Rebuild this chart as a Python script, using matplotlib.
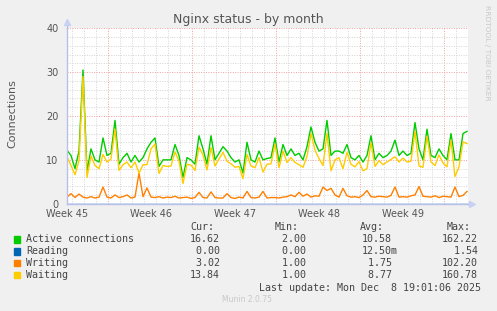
import matplotlib.pyplot as plt
from matplotlib.patches import Rectangle
import numpy as np

# munin "nginx status - by month", one value every 8 hours
active = [12.2, 11.0, 8.0, 12.0, 30.5, 7.3, 12.5, 10.0, 9.5, 15.0,
          11.0, 11.5, 19.0, 9.0, 10.5, 11.5, 9.5, 11.0, 9.5, 10.5,
          12.5, 14.0, 15.0, 8.5, 10.0, 10.0, 10.0, 13.5, 11.0, 6.0,
          10.5, 10.0, 9.0, 15.5, 12.5, 9.0, 15.5, 10.0, 11.5, 13.0,
          12.0, 10.5, 9.5, 10.0, 7.0, 14.0, 10.0, 9.5, 12.0, 10.0,
          10.3, 10.5, 15.0, 9.5, 13.5, 11.0, 12.5, 11.0, 11.5, 10.0,
          13.0, 17.5, 14.0, 12.0, 12.5, 19.0, 11.0, 12.0, 12.0, 11.5,
          13.5, 10.5, 10.0, 11.0, 9.5, 11.0, 15.5, 10.0, 11.5, 10.5,
          11.0, 12.0, 14.5, 11.0, 12.0, 11.0, 11.5, 18.5, 12.5, 10.0,
          17.0, 11.0, 10.5, 12.5, 11.0, 10.0, 16.0, 10.0, 10.0, 16.0,
          16.5]
reading = [0.0] * len(active)
writing = [1.5, 2.3, 1.4, 2.2, 1.5, 1.3, 1.6, 1.3, 1.5, 3.8,
           1.5, 1.3, 2.0, 1.4, 1.6, 2.0, 1.3, 1.5, 7.0, 1.6,
           3.6, 1.5, 1.4, 1.6, 1.3, 1.5, 1.4, 1.7, 1.3, 1.4,
           1.5, 1.2, 1.4, 2.6, 1.4, 1.3, 2.7, 1.4, 1.3, 1.3,
           2.3, 1.4, 1.2, 1.5, 1.3, 2.8, 1.4, 1.3, 1.5, 2.8,
           1.3, 1.4, 1.4, 1.3, 1.5, 1.6, 2.0, 1.6, 2.6, 1.7,
           2.2, 1.5, 1.8, 1.7, 3.8, 3.0, 3.5, 2.0, 1.5, 3.5,
           1.8, 1.5, 1.6, 1.4, 2.0, 3.0, 1.6, 1.5, 1.7, 1.6,
           1.5, 1.9, 3.8, 1.5, 1.6, 1.5, 1.8, 2.0, 3.9, 1.7,
           1.6, 1.5, 1.8, 1.4, 1.7, 1.6, 1.5, 3.8, 1.6, 1.9,
           2.8]
waiting = [10.7, 8.7, 6.6, 9.8, 29.0, 6.0, 10.9, 8.7, 8.0, 11.2,
           9.5, 10.2, 17.0, 7.6, 8.9, 9.5, 8.2, 9.5, 7.0, 8.9,
           8.9, 12.5, 13.6, 6.9, 8.7, 8.5, 8.6, 11.8, 9.7, 4.6,
           9.0, 8.8, 7.6, 12.9, 11.1, 7.7, 12.8, 8.6, 10.2, 11.7,
           9.7, 9.1, 8.3, 8.5, 5.7, 11.2, 8.6, 8.2, 10.5, 7.2,
           9.0, 9.1, 13.6, 8.2, 12.0, 9.4, 10.5, 9.4, 8.9, 8.3,
           10.8, 16.0, 12.2, 10.3, 8.7, 16.0, 7.5, 10.0, 10.5, 8.0,
           11.7, 9.0, 8.4, 9.6, 7.5, 8.0, 13.9, 8.5, 9.8, 8.9,
           9.5, 10.1, 10.7, 9.5, 10.4, 9.5, 9.7, 16.5, 8.6, 8.3,
           15.4, 9.5, 8.7, 11.1, 9.3, 8.4, 14.5, 6.2, 8.4, 14.1,
           13.7]

week_labels = ['Week 45', 'Week 46', 'Week 47', 'Week 48', 'Week 49']
series_names = ['Active connections', 'Reading', 'Writing', 'Waiting']
colors = ['#00CC00', '#0066B3', '#FF8000', '#FFCC00']
cur = ['16.62', ' 0.00', ' 3.02', '13.84']
mins = [' 2.00', ' 0.00', ' 1.00', ' 1.00']
avgs = ['10.58', '12.50m', ' 1.75', ' 8.77']
maxs = ['162.22', '  1.54', '102.20', '160.78']

W, H = 497, 311


def fx(x):
    return x / W


def fy(y):
    return 1 - y / H


fig = plt.figure(figsize=(W / 100, H / 100), dpi=100, facecolor='#F0F0F0')
ax = fig.add_axes([fx(67), fy(203.7), 401 / W, 175.4 / H])
ax.set_facecolor('white')

days = np.arange(len(active)) / 3.0
x_end = 401 / 12.0
ax.set_xlim(0, x_end)
ax.set_ylim(0, 40)

# grid: daily/2-unit dotted grey, weekly/10-unit dotted red
dot = (0, (1, 1.5))
for d in np.arange(0.44, x_end, 1.0):
    major = abs(((d - 3.44) / 7) - round((d - 3.44) / 7)) < 1e-6
    ax.axvline(d, color='#F0A0A0' if major else '#D4D4D4', lw=0.7, ls=dot, zorder=0)
for v in range(2, 41, 2):
    ax.axhline(v, color='#F0A0A0' if v % 10 == 0 else '#D4D4D4', lw=0.7, ls=dot, zorder=0)

ax.plot(days, active, color=colors[0], lw=1, zorder=2)
ax.plot(days, reading, color=colors[1], lw=1, zorder=1)
ax.plot(days, writing, color=colors[2], lw=1, zorder=2)
ax.plot(days, waiting, color=colors[3], lw=1, zorder=2)

for s in ['top', 'right']:
    ax.spines[s].set_visible(False)
for s in ['left', 'bottom']:
    ax.spines[s].set_color('#B8C0E8')
    ax.spines[s].set_linewidth(1)
    ax.spines[s].set_zorder(3)
# little axis arrows, munin style
ax.plot([0, 0], [1, 1.03], color='#B8C0E8', lw=1, transform=ax.transAxes, clip_on=False)
ax.plot([0], [1.035], marker='^', ms=4, color='#C8D0F4', transform=ax.transAxes, clip_on=False)
ax.plot([1, 1.008], [0, 0], color='#B8C0E8', lw=1, transform=ax.transAxes, clip_on=False)
ax.plot([1.01], [0], marker='>', ms=4, color='#C8D0F4', transform=ax.transAxes, clip_on=False)

ax.set_yticks([0, 10, 20, 30, 40])
ax.set_xticks([0, 7, 14, 21, 28])
ax.set_xticklabels(week_labels)
ax.tick_params(length=0, labelsize=7, labelcolor='#555555')
ax.tick_params(axis='y', pad=6)
ax.tick_params(axis='x', pad=4)

fig.text(0.5, fy(19), 'Nginx status - by month', ha='center', va='center',
         fontsize=9, color='#555555')
fig.text(fx(12), fy(114), 'Connections', rotation=90, ha='center', va='center',
         fontsize=8, color='#555555')
fig.text(fx(487), fy(5), 'RRDTOOL / TOBI OETIKER', rotation=270, ha='center', va='top',
         fontsize=5.4, color='#C8C8C8')

# legend table
mono = dict(family='DejaVu Sans Mono', fontsize=7.2, color='#444444', va='center')
fig.text(fx(190), fy(227), 'Cur:', **mono)
fig.text(fx(275), fy(227), 'Min:', **mono)
fig.text(fx(360), fy(227), 'Avg:', **mono)
fig.text(fx(447), fy(227), 'Max:', **mono)
for i, name in enumerate(series_names):
    y = 239.5 + 11.8 * i
    fig.add_artist(Rectangle((fx(13.5), fy(y + 3.3)), 6.5 / W, 6.5 / H,
                             transform=fig.transFigure, color=colors[i]))
    fig.text(fx(26.5), fy(y), name, **mono)
    fig.text(fx(190), fy(y), cur[i], **mono)
    fig.text(fx(276), fy(y), mins[i], **mono)
    fig.text(fx(362), fy(y), avgs[i], **mono)
    fig.text(fx(442), fy(y), maxs[i], **mono)
fig.text(fx(481), fy(288), 'Last update: Mon Dec  8 19:01:06 2025', ha='right', **mono)
fig.text(fx(247), fy(300), 'Munin 2.0.75', ha='center', va='center', fontsize=5.5, color='#C8C8C8')

fig.savefig('out.png', dpi=100, facecolor=fig.get_facecolor())
